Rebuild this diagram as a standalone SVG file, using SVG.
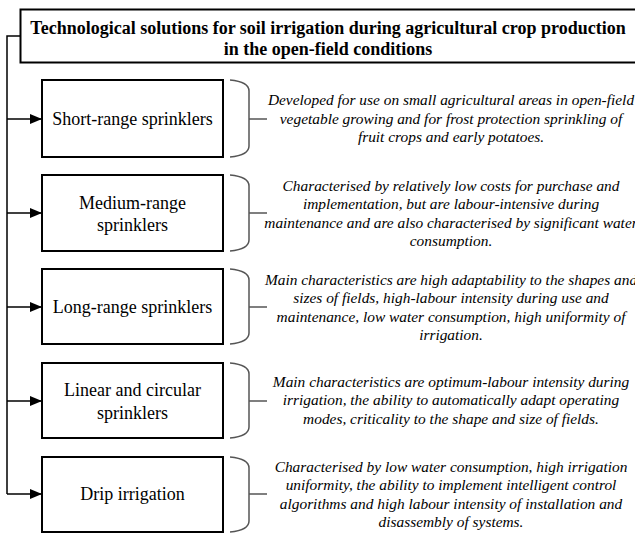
<svg xmlns="http://www.w3.org/2000/svg" width="635" height="533" viewBox="0 0 635 533">
<defs>
<marker id="arr" markerWidth="12" markerHeight="10" refX="11" refY="5" orient="auto" markerUnits="userSpaceOnUse">
<path d="M0,0 L12,5 L0,10 Z" fill="#000"/>
</marker>
<style>
.box{fill:#fff;stroke:#000;stroke-width:2}
.lbl{font-family:"Liberation Serif","Times New Roman",serif;font-size:18px;text-anchor:middle;fill:#000}
.title{font-family:"Liberation Serif","Times New Roman",serif;font-size:18px;font-weight:bold;text-anchor:middle;fill:#000}
.desc{font-family:"Liberation Serif","Times New Roman",serif;font-size:15.4px;font-style:italic;text-anchor:middle;fill:#000}
.conn{fill:none;stroke:#000;stroke-width:1.5}
.brace{fill:none;stroke:#555;stroke-width:1.5}
</style>
</defs>
<rect width="635" height="533" fill="#fff"/>
<g id="connectors">
<path class="conn" d="M20.5,36 H7 V494"/>
<path class="conn" d="M7,119 H41" marker-end="url(#arr)"/>
<path class="conn" d="M7,213 H41" marker-end="url(#arr)"/>
<path class="conn" d="M7,307 H41" marker-end="url(#arr)"/>
<path class="conn" d="M7,401 H41" marker-end="url(#arr)"/>
<path class="conn" d="M7,494 H41" marker-end="url(#arr)"/>
</g>
<g id="title">
<rect class="box" x="20.5" y="9.5" width="630" height="53"/>
<text class="title" x="328" y="33.5">Technological solutions for soil irrigation during agricultural crop production</text>
<text class="title" x="328" y="55">in the open-field conditions</text>
</g>
<g id="short-range">
<rect class="box" x="42" y="80" width="181" height="77"/>
<text class="lbl" x="132.5" y="125">Short-range sprinklers</text>
</g>
<g id="medium-range">
<rect class="box" x="42" y="175" width="181" height="76"/>
<text class="lbl" x="132.5" y="208.5">Medium-range</text>
<text class="lbl" x="132.5" y="231">sprinklers</text>
</g>
<g id="long-range">
<rect class="box" x="42" y="269" width="181" height="75"/>
<text class="lbl" x="132.5" y="313">Long-range sprinklers</text>
</g>
<g id="linear-circular">
<rect class="box" x="42" y="363" width="181" height="75"/>
<text class="lbl" x="132.5" y="395.5">Linear and circular</text>
<text class="lbl" x="132.5" y="418.5">sprinklers</text>
</g>
<g id="drip">
<rect class="box" x="42" y="457" width="181" height="75"/>
<text class="lbl" x="132.5" y="500">Drip irrigation</text>
</g>
<g id="desc-short">
<path class="brace" d="M230,80 C241,81 249,84 249,91 V146 C249,153 241,156 230,157 M249,119 H267"/>
<text class="desc" x="451" y="105">Developed for use on small agricultural areas in open-field</text>
<text class="desc" x="451" y="123.5">vegetable growing and for frost protection sprinkling of</text>
<text class="desc" x="451" y="142">fruit crops and early potatoes.</text>
</g>
<g id="desc-medium">
<path class="brace" d="M230,175 C241,176 249,179 249,186 V240 C249,247 241,250 230,251 M249,213 H267"/>
<text class="desc" x="451" y="190.5">Characterised by relatively low costs for purchase and</text>
<text class="desc" x="451" y="209">implementation, but are labour-intensive during</text>
<text class="desc" x="451" y="227.5">maintenance and are also characterised by significant water</text>
<text class="desc" x="451" y="246">consumption.</text>
</g>
<g id="desc-long">
<path class="brace" d="M230,269 C241,270 249,273 249,280 V333 C249,340 241,343 230,344 M249,307 H267"/>
<text class="desc" x="451" y="284.5">Main characteristics are high adaptability to the shapes and</text>
<text class="desc" x="451" y="303">sizes of fields, high-labour intensity during use and</text>
<text class="desc" x="451" y="321.5">maintenance, low water consumption, high uniformity of</text>
<text class="desc" x="451" y="340">irrigation.</text>
</g>
<g id="desc-linear">
<path class="brace" d="M230,363 C241,364 249,367 249,374 V427 C249,434 241,437 230,438 M249,401 H267"/>
<text class="desc" x="451" y="386.5">Main characteristics are optimum-labour intensity during</text>
<text class="desc" x="451" y="405">irrigation, the ability to automatically adapt operating</text>
<text class="desc" x="451" y="423.5">modes, criticality to the shape and size of fields.</text>
</g>
<g id="desc-drip">
<path class="brace" d="M230,457 C241,458 249,461 249,468 V521 C249,528 241,531 230,532 M249,494 H267"/>
<text class="desc" x="451" y="471.5">Characterised by low water consumption, high irrigation</text>
<text class="desc" x="451" y="490">uniformity, the ability to implement intelligent control</text>
<text class="desc" x="451" y="508.5">algorithms and high labour intensity of installation and</text>
<text class="desc" x="451" y="527">disassembly of systems.</text>
</g>
</svg>
